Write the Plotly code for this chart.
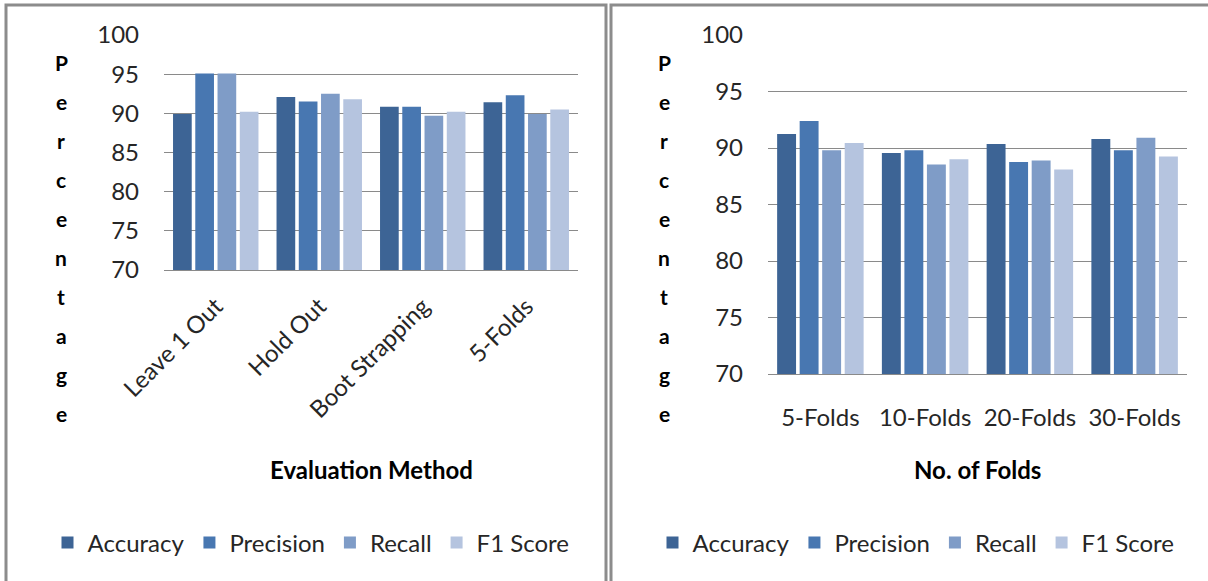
import plotly.graph_objects as go

# Evaluation methods (left panel)
methods = ["Leave 1 Out", "Hold Out", "Boot Strapping", "5-Folds"]
m_accuracy = [89.9, 92.1, 90.85, 91.4]
m_precision = [95.1, 91.5, 90.85, 92.3]
m_recall = [95.1, 92.5, 89.7, 89.9]
m_f1 = [90.2, 91.8, 90.2, 90.5]

# Number of folds (right panel)
folds = ["5-Folds", "10-Folds", "20-Folds", "30-Folds"]
f_accuracy = [91.25, 89.55, 90.35, 90.8]
f_precision = [92.4, 89.8, 88.75, 89.8]
f_recall = [89.8, 88.55, 88.9, 90.9]
f_f1 = [90.45, 89.0, 88.1, 89.25]

series_names = ["Accuracy", "Precision", "Recall", "F1 Score"]
colors = ["#3D6495", "#4877B1", "#7F9CC7", "#B5C4DF"]
y_ticks = [70, 75, 80, 85, 90, 95, 100]

W, H = 1208, 581
FONT = "Lato"
TXT = "#262626"
GRID = "#8a8a8a"


def px_x(p):
    return p / W


def px_y(p):
    return 1 - p / H


fig = go.Figure()

left_vals = [m_accuracy, m_precision, m_recall, m_f1]
right_vals = [f_accuracy, f_precision, f_recall, f_f1]

for name, col, vals in zip(series_names, colors, left_vals):
    fig.add_trace(go.Bar(x=methods, y=vals, name=name, marker_color=col,
                         marker_line_width=0, xaxis="x", yaxis="y",
                         legend="legend"))
for name, col, vals in zip(series_names, colors, right_vals):
    fig.add_trace(go.Bar(x=folds, y=vals, name=name, marker_color=col,
                         marker_line_width=0, xaxis="x2", yaxis="y2",
                         legend="legend2"))

yaxis_common = dict(range=[70, 100], tickvals=y_ticks, showgrid=True,
                    gridcolor=GRID, gridwidth=1, zeroline=False,
                    showline=False, ticks="", automargin=False,
                    ticklabelstandoff=24,
                    tickfont=dict(family=FONT, size=24, color=TXT))
xaxis_common = dict(showgrid=False, zeroline=False, showline=True,
                    linecolor=GRID, linewidth=1, ticks="", automargin=False,
                    tickfont=dict(family=FONT, size=24, color=TXT))

legend_common = dict(orientation="h", xanchor="center", yanchor="middle",
                     font=dict(family=FONT, size=24, color=TXT),
                     bgcolor="rgba(0,0,0,0)", itemclick=False,
                     itemwidth=30, tracegroupgap=0)

fig.update_layout(
    width=W, height=H,
    template="none",
    paper_bgcolor="white", plot_bgcolor="white",
    margin=dict(l=0, r=0, t=0, b=0),
    barmode="group", bargap=0.14, bargroupgap=0.16,
    xaxis=dict(domain=[px_x(164), px_x(578)], anchor="y",
               tickangle=-45, ticklabelstandoff=12, **xaxis_common),
    yaxis=dict(domain=[px_y(270), px_y(35)], anchor="x", **yaxis_common),
    xaxis2=dict(domain=[px_x(768), px_x(1187)], anchor="y2",
                ticklabelstandoff=22, **xaxis_common),
    yaxis2=dict(domain=[px_y(374), px_y(35)], anchor="x2", **yaxis_common),
    legend=dict(x=px_x(311), y=px_y(543), **legend_common),
    legend2=dict(x=px_x(916), y=px_y(543), **legend_common),
    showlegend=True,
)

annotations = []
title_font = dict(family=FONT, size=24, color="#000000")
# Axis titles
annotations.append(dict(text="<b>Evaluation Method</b>", x=px_x(371), y=px_y(469),
                        xref="paper", yref="paper", xanchor="center",
                        yanchor="middle", showarrow=False, font=title_font))
annotations.append(dict(text="<b>No. of Folds</b>", x=px_x(977), y=px_y(469),
                        xref="paper", yref="paper", xanchor="center",
                        yanchor="middle", showarrow=False, font=title_font))
# Vertical "Percentage" titles, one letter per line
for cx in (61, 664):
    for i, ch in enumerate("Percentage"):
        annotations.append(dict(text=f"<b>{ch}</b>", x=px_x(cx),
                                y=px_y(62 + i * 39.0), xref="paper",
                                yref="paper", xanchor="center",
                                yanchor="middle", showarrow=False,
                                font=dict(family=FONT, size=21, color="#000000")))
fig.update_layout(annotations=annotations)

# Panel frames
frame = dict(type="rect", xref="paper", yref="paper",
             line=dict(color="#8c8c8c", width=3), fillcolor="rgba(0,0,0,0)",
             layer="above")
fig.add_shape(x0=px_x(6), x1=px_x(606), y0=-0.05, y1=px_y(5), **frame)
fig.add_shape(x0=px_x(611), x1=1.05, y0=-0.05, y1=px_y(5), **frame)

fig.write_html("out.html")
